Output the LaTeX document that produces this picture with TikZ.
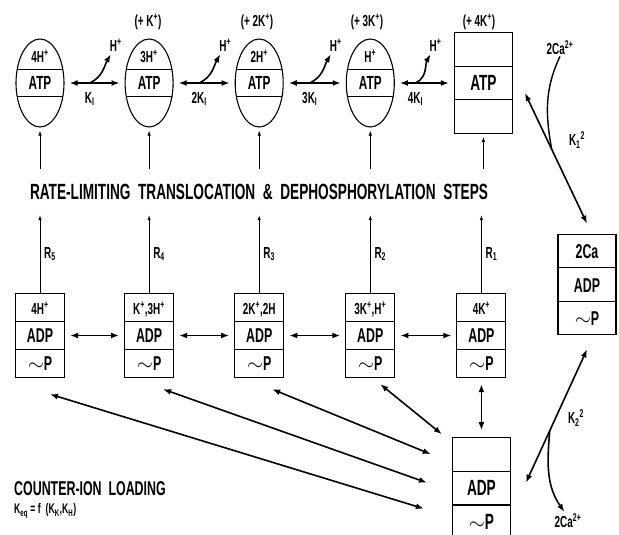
\documentclass[tikz,border=0pt]{standalone}
\usepackage{fontspec}
\newfontfamily\condfont[FakeStretch=0.62]{Liberation Sans}
\usetikzlibrary{arrows.meta, positioning, shapes.geometric, shapes.multipart, calc}

\newcommand\rs{\rule[-6.5pt]{0pt}{27pt}}
\newcommand\rb{\rule[-8.5pt]{0pt}{32.5pt}}
\newcommand\ionsz{\fontsize{16}{16}\selectfont}

\tikzset{
    cellell/.style={ellipse, draw, line width=1.1pt, minimum width=48pt, minimum height=88pt, inner sep=0pt,
        font=\condfont\bfseries\fontsize{19}{19}\selectfont,
        path picture={
            \draw[line width=0.9pt] ([yshift=13.5pt]path picture bounding box.west) -- ([yshift=13.5pt]path picture bounding box.east);
            \draw[line width=0.9pt] ([yshift=-13.5pt]path picture bounding box.west) -- ([yshift=-13.5pt]path picture bounding box.east);}},
    celltxt/.style={inner sep=0pt, font=\condfont\bfseries\fontsize{16}{16}\selectfont},
    sbox/.style={rectangle split, rectangle split parts=3, draw, line width=1.1pt, minimum width=49pt, inner xsep=0pt, inner ysep=0pt, font=\condfont\bfseries\fontsize{20}{20}\selectfont},
    bbox/.style={sbox, minimum width=58pt, font=\condfont\bfseries\fontsize{22}{22}\selectfont},
    lbl/.style={inner sep=1pt, font=\condfont\bfseries\fontsize{16}{16}\selectfont},
    ttlfont/.style={inner sep=0pt, minimum height=46pt, font=\condfont\bfseries\fontsize{22}{22}\selectfont},
    darr/.style={{Latex[length=8pt,width=6pt]}-{Latex[length=8pt,width=6pt]}, line width=1.6pt},
    sarr/.style={-{Latex[length=8pt,width=6pt]}, line width=1.6pt},
    varr/.style={-{Latex[length=5pt,width=3.5pt]}, line width=0.8pt}
}

\begin{document}
\begin{tikzpicture}[x=1pt, y=-1pt]
\useasboundingbox (0,0) rectangle (619,535);

% phosphorylated pump, cytoplasmic side
\node[cellell] (e1) at (40,83) {ATP};
\node[cellell, right=60pt of e1] (e2) {ATP};
\node[cellell, right=61pt of e2] (e3) {ATP};
\node[cellell, right=62pt of e3] (e4) {ATP};
\node[bbox, right=59pt of e4] (tb) {\rb\nodepart{two}\rb ATP\nodepart{three}\rb};

\node[celltxt] (e1t) at ([yshift=27pt]e1.center) {4H\textsuperscript{+}};
\node[celltxt] (e2t) at ([yshift=27pt]e2.center) {3H\textsuperscript{+}};
\node[celltxt] (e3t) at ([yshift=27pt]e3.center) {2H\textsuperscript{+}};
\node[celltxt] (e4t) at ([yshift=27pt]e4.center) {H\textsuperscript{+}};

\node[lbl] (k1) at (148,22) {(+ K\textsuperscript{+})};
\node[lbl] (k2) at (257,22) {(+ 2K\textsuperscript{+})};
\node[lbl] (k3) at (367,22) {(+ 3K\textsuperscript{+})};
\node[lbl] (k4) at (479,22) {(+ 4K\textsuperscript{+})};

% proton release
\draw[darr, shorten <=5pt, shorten >=5pt] (e1) -- (e2) coordinate[pos=.42] (h1);
\draw[darr, shorten <=5pt, shorten >=5pt] (e2) -- (e3) coordinate[pos=.42] (h2);
\draw[darr, shorten <=5pt, shorten >=5pt] (e3) -- (e4) coordinate[pos=.42] (h3);
\draw[darr, shorten <=5pt, shorten >=5pt] (e4) -- (tb) coordinate[pos=.35] (h4);

\node[lbl] (hp1) at ($(h1)+(26,-38)$) {H\textsuperscript{+}};
\node[lbl] (hp2) at ($(h2)+(26,-38)$) {H\textsuperscript{+}};
\node[lbl] (hp3) at ($(h3)+(26,-38)$) {H\textsuperscript{+}};
\node[lbl] (hp4) at ($(h4)+(20,-38)$) {H\textsuperscript{+}};

\draw[sarr, shorten >=2pt] (h1) to[out=25, in=-120] ([xshift=-4pt]hp1.south);
\draw[sarr, shorten >=2pt] (h2) to[out=25, in=-120] ([xshift=-4pt]hp2.south);
\draw[sarr, shorten >=2pt] (h3) to[out=25, in=-120] ([xshift=-4pt]hp3.south);
\draw[sarr, shorten >=2pt] (h4) to[out=25, in=-120] ([xshift=-4pt]hp4.south);

\node[lbl, below=8pt of h1] (ki1) {K\textsubscript{I}};
\node[lbl, below=8pt of h2] (ki2) {2K\textsubscript{I}};
\node[lbl, below=8pt of h3] (ki3) {3K\textsubscript{I}};
\node[lbl, below=8pt of h4] (ki4) {4K\textsubscript{I}};

% occluded states
\node[sbox] (b1) at (40,335.5) {\rs{\ionsz 4H\textsuperscript{+}}\nodepart{two}\rs ADP\nodepart{three}\rs$\sim$P};
\node[sbox, right=59pt of b1] (b2) {\rs{\ionsz K\textsuperscript{+},3H\textsuperscript{+}}\nodepart{two}\rs ADP\nodepart{three}\rs$\sim$P};
\node[sbox, right=60pt of b2] (b3) {\rs{\ionsz 2K\textsuperscript{+},2H}\nodepart{two}\rs ADP\nodepart{three}\rs$\sim$P};
\node[sbox, right=61pt of b3] (b4) {\rs{\ionsz 3K\textsuperscript{+},H\textsuperscript{+}}\nodepart{two}\rs ADP\nodepart{three}\rs$\sim$P};
\node[sbox, right=61pt of b4] (b5) {\rs{\ionsz 4K\textsuperscript{+}}\nodepart{two}\rs ADP\nodepart{three}\rs$\sim$P};

\node[bbox, below=59pt of b5] (bb) {\rb\nodepart{two}\rb ADP\nodepart{three}\rb$\sim$P};
\node[bbox, font=\condfont\bfseries\fontsize{20}{20}\selectfont] (ca) at (587,284.5) {\rb 2Ca\nodepart{two}\rb ADP\nodepart{three}\rb$\sim$P};

\draw[darr, shorten <=5pt, shorten >=5pt] (b1) -- (b2);
\draw[darr, shorten <=5pt, shorten >=5pt] (b2) -- (b3);
\draw[darr, shorten <=5pt, shorten >=5pt] (b3) -- (b4);
\draw[darr, shorten <=5pt, shorten >=5pt] (b4) -- (b5);

% rate-limiting steps
\node[ttlfont] (ttl) at (259,192) {RATE-LIMITING\ \ TRANSLOCATION\ \ \&\ \ DEPHOSPHORYLATION\ \ STEPS};

\draw[varr] (b1) -- (b1 |- ttl.south);
\draw[varr] (b2) -- (b2 |- ttl.south);
\draw[varr] (b3) -- (b3 |- ttl.south);
\draw[varr] (b4) -- (b4 |- ttl.south);
\draw[varr] (b5) -- (b5 |- ttl.south);
\draw[varr, shorten >=3pt] (e1 |- ttl.north) -- (e1);
\draw[varr, shorten >=3pt] (e2 |- ttl.north) -- (e2);
\draw[varr, shorten >=3pt] (e3 |- ttl.north) -- (e3);
\draw[varr, shorten >=3pt] (e4 |- ttl.north) -- (e4);
\draw[varr, shorten >=3pt] (tb |- ttl.north) -- (tb);

\path (b1) -- (b1 |- ttl.south) node[lbl, midway, right=3pt] (r5) {R\textsubscript{5}};
\path (b2) -- (b2 |- ttl.south) node[lbl, midway, right=3pt] (r4) {R\textsubscript{4}};
\path (b3) -- (b3 |- ttl.south) node[lbl, midway, right=3pt] (r3) {R\textsubscript{3}};
\path (b4) -- (b4 |- ttl.south) node[lbl, midway, right=3pt] (r2) {R\textsubscript{2}};
\path (b5) -- (b5 |- ttl.south) node[lbl, midway, right=3pt] (r1) {R\textsubscript{1}};

% counter-ion loading
\draw[darr, shorten <=6pt, shorten >=7pt] (b5) -- (bb);
\draw[darr] ([xshift=10pt,yshift=-6pt]b4.south) -- ([xshift=-10pt,yshift=3pt]bb.north west);
\draw[darr] ([xshift=13pt,yshift=-11pt]b3.south) -- ([xshift=-21pt,yshift=-17pt]bb.north west);
\draw[darr] ([xshift=14pt,yshift=-11pt]b2.south) -- ([xshift=-25pt,yshift=5.5pt]bb.west);
\draw[darr] ([xshift=10pt,yshift=-16pt]b1.south) -- ([xshift=-28pt,yshift=-20.5pt]bb.west);

\node[lbl, inner sep=0pt, anchor=west, font=\condfont\bfseries\fontsize{20}{20}\selectfont] (cil) at (14,489) {COUNTER-ION\ \ LOADING};
\node[lbl, inner sep=0pt, anchor=west, font=\condfont\bfseries\fontsize{14}{14}\selectfont] (keq) at (14,511) {K\textsubscript{eq}\ = f\ \ (K\textsubscript{K},K\textsubscript{H})};

% calcium binding
\draw[darr] ([xshift=12pt,yshift=-10pt]tb.east) -- ([yshift=10pt]ca.north) coordinate[pos=.43] (j1);
\node[lbl] (ca1) at (560,48) {2Ca\textsuperscript{2+}};
\draw[line width=1.4pt] (ca1.south) to[out=-115, in=100] (j1);
\node[lbl] (ksq1) at (577,140) {K\textsubscript{1}\textsuperscript{2}};

\draw[darr] ([yshift=-14pt]ca.south) -- ([xshift=15pt,yshift=5.5pt]bb.east) coordinate[pos=.61] (j2);
\node[lbl] (ca2) at (568,521) {2Ca\textsuperscript{2+}};
\draw[sarr, shorten >=1pt] (j2) to[out=-95, in=125] ([xshift=-3pt]ca2.north);
\node[lbl] (ksq2) at (576,418) {K\textsubscript{2}\textsuperscript{2}};

\end{tikzpicture}
\end{document}
